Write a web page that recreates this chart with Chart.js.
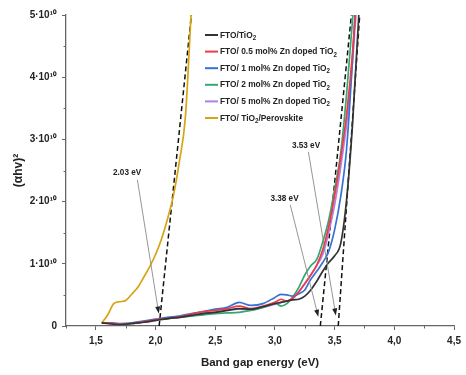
<!DOCTYPE html>
<html lang="en">
<head>
<meta charset="UTF-8">
<title>Band gap energy - Tauc plot</title>
<script src="https://cdn.jsdelivr.net/npm/chart.js"></script>
<style>
  html, body { margin: 0; padding: 0; background: #fff; }
  .chart-container { position: relative; width: 466px; height: 375px; }
</style>
</head>
<body>
<div class="chart-container"><canvas id="taucChart" width="466" height="375"></canvas></div>
<script>
// energy grid (eV) shared by the TiO2 films
const energy = [1.55, 1.6, 1.7, 1.8, 1.9, 2.0, 2.1, 2.2, 2.3, 2.4, 2.5, 2.6, 2.7, 2.8, 2.9, 3.0, 3.05, 3.1, 3.15, 3.2, 3.25, 3.3, 3.35, 3.4, 3.45, 3.5, 3.55, 3.6, 3.65, 3.7, 3.75];

// (ahv)^2 in units of 1e10
const ftoTiO2   = [0.05, 0.04, 0.02, 0.04, 0.06, 0.09, 0.12, 0.14, 0.17, 0.20, 0.22, 0.25, 0.28, 0.27, 0.31, 0.36, 0.38, 0.40, 0.42, 0.43, 0.48, 0.58, 0.72, 0.88, 1.02, 1.13, 1.32, 2.03, 3.25, 4.92, 6.8];
const zn05      = [0.05, 0.05, 0.03, 0.04, 0.07, 0.10, 0.12, 0.15, 0.19, 0.23, 0.25, 0.28, 0.32, 0.28, 0.32, 0.38, 0.43, 0.40, 0.45, 0.55, 0.68, 0.82, 0.98, 1.22, 1.60, 2.10, 2.70, 3.40, 4.40, 5.8, 7.4];
const zn1       = [0.05, 0.05, 0.04, 0.05, 0.08, 0.11, 0.14, 0.16, 0.20, 0.23, 0.27, 0.30, 0.38, 0.33, 0.36, 0.46, 0.51, 0.50, 0.48, 0.52, 0.58, 0.75, 0.88, 1.02, 1.20, 1.55, 2.07, 2.85, 4.30, 6.0, 7.8];
const zn2       = [0.05, 0.05, 0.03, 0.04, 0.07, 0.10, 0.12, 0.14, 0.16, 0.18, 0.20, 0.21, 0.22, 0.25, 0.30, 0.37, 0.32, 0.36, 0.47, 0.62, 0.82, 0.97, 1.07, 1.35, 1.70, 2.20, 2.77, 3.73, 4.93, 6.1, 7.6];
const zn5       = [0.05, 0.04, 0.02, 0.04, 0.06, 0.09, 0.12, 0.14, 0.17, 0.20, 0.22, 0.25, 0.27, 0.26, 0.30, 0.35, 0.38, 0.40, 0.44, 0.55, 0.68, 0.82, 0.97, 1.15, 1.50, 1.95, 2.55, 3.25, 4.25, 5.6, 7.2];

const perovskiteEnergy = [1.55, 1.6, 1.65, 1.7, 1.75, 1.8, 1.85, 1.9, 1.95, 2.0, 2.05, 2.1, 2.15, 2.2, 2.25, 2.3];
const perovskite       = [0.05, 0.18, 0.36, 0.39, 0.41, 0.51, 0.62, 0.78, 0.95, 1.15, 1.40, 1.72, 2.10, 2.65, 3.36, 5.1];

const seriesNames  = ['FTO/TiO₂', 'FTO/ 0.5 mol% Zn doped TiO₂', 'FTO/ 1 mol% Zn doped TiO₂', 'FTO/ 2 mol% Zn doped TiO₂', 'FTO/ 5 mol% Zn doped TiO₂', 'FTO/ TiO₂/Perovskite'];
const seriesColors = ['#333333', '#ee3b47', '#3672d4', '#35a872', '#b07fe2', '#d6a414'];

// tangent extrapolations: x at y = 0 and at the top of the axis
const tangentX = [[2.03, 2.30], [3.38, 3.64], [3.53, 3.71]];
const tangentY = [0, 5];

// band gap labels and their arrows
const gapLabels  = ['2.03 eV', '3.38 eV', '3.53 eV'];
const gapLabelAt = [[1.762, 2.47], [3.08, 2.05], [3.26, 2.90]];
const arrowFrom  = [[1.848, 2.35], [3.128, 1.95], [3.28, 2.80]];
const arrowTo    = [[2.027, 0.20], [3.363, 0.15], [3.51, 0.17]];

const xTicks = [1.5, 2.0, 2.5, 3.0, 3.5, 4.0, 4.5];
const xMinor = [1.25, 1.75, 2.25, 2.75, 3.25, 3.75, 4.25];
const yTicks = [0, 1, 2, 3, 4, 5];
const yMinor = [0.5, 1.5, 2.5, 3.5, 4.5];

const FONT = "'Liberation Sans Narrow', 'Liberation Sans', Arial, sans-serif";
const axisColor = '#666';

const tioSeries = [ftoTiO2, zn05, zn1, zn2, zn5];
const datasets = tioSeries.map((vals, i) => ({
    label: seriesNames[i],
    data: energy.map((e, j) => ({ x: e, y: vals[j] })),
    borderColor: seriesColors[i],
    borderWidth: 1.7,
    pointRadius: 0,
    cubicInterpolationMode: 'monotone'
}));
datasets.push({
    label: seriesNames[5],
    data: perovskiteEnergy.map((e, j) => ({ x: e, y: perovskite[j] })),
    borderColor: seriesColors[5],
    borderWidth: 1.7,
    pointRadius: 0,
    cubicInterpolationMode: 'monotone'
});
tangentX.forEach(pair => {
    datasets.push({
        label: 'tangent',
        data: pair.map((e, j) => ({ x: e, y: tangentY[j] })),
        borderColor: '#111',
        borderWidth: 1.5,
        borderDash: [5, 3],
        pointRadius: 0
    });
});

// condensed text, "₂" drawn as a real subscript
function drawSubText(ctx, text, x, y, size, squeeze) {
    ctx.save();
    ctx.translate(x, y);
    ctx.scale(squeeze, 1);
    let cx = 0;
    const parts = text.split('₂');
    parts.forEach((p, i) => {
        ctx.font = 'bold ' + size + 'px ' + FONT;
        ctx.fillText(p, cx, 0);
        cx += ctx.measureText(p).width;
        if (i < parts.length - 1) {
            ctx.font = 'bold ' + Math.round(size * 0.7) + 'px ' + FONT;
            ctx.fillText('2', cx, 3);
            cx += ctx.measureText('2').width;
        }
    });
    ctx.restore();
}

const extrasPlugin = {
    id: 'taucExtras',
    afterDraw(chart) {
        const { ctx, chartArea, scales: { x, y } } = chart;
        ctx.save();

        // minor ticks
        ctx.strokeStyle = axisColor;
        ctx.lineWidth = 1;
        ctx.beginPath();
        xMinor.forEach(v => {
            const px = Math.round(x.getPixelForValue(v)) + 0.5;
            ctx.moveTo(px, chartArea.bottom);
            ctx.lineTo(px, chartArea.bottom + 2.5);
        });
        yMinor.forEach(v => {
            const py = Math.round(y.getPixelForValue(v)) + 0.5;
            ctx.moveTo(chartArea.left - 2.5, py);
            ctx.lineTo(chartArea.left, py);
        });
        ctx.stroke();

        // arrows
        arrowFrom.forEach((from, i) => {
            const x0 = x.getPixelForValue(from[0]), y0 = y.getPixelForValue(from[1]);
            const x1 = x.getPixelForValue(arrowTo[i][0]), y1 = y.getPixelForValue(arrowTo[i][1]);
            const ang = Math.atan2(y1 - y0, x1 - x0);
            ctx.strokeStyle = '#8a8a8a';
            ctx.lineWidth = 0.9;
            ctx.beginPath();
            ctx.moveTo(x0, y0);
            ctx.lineTo(x1 - 5 * Math.cos(ang), y1 - 5 * Math.sin(ang));
            ctx.stroke();
            ctx.fillStyle = '#222';
            ctx.beginPath();
            ctx.moveTo(x1, y1);
            ctx.lineTo(x1 - 7 * Math.cos(ang) + 2.5 * Math.sin(ang), y1 - 7 * Math.sin(ang) - 2.5 * Math.cos(ang));
            ctx.lineTo(x1 - 7 * Math.cos(ang) - 2.5 * Math.sin(ang), y1 - 7 * Math.sin(ang) + 2.5 * Math.cos(ang));
            ctx.closePath();
            ctx.fill();
        });

        // band gap labels
        ctx.fillStyle = '#222';
        ctx.textAlign = 'center';
        ctx.textBaseline = 'middle';
        gapLabels.forEach((t, i) => {
            ctx.save();
            ctx.translate(x.getPixelForValue(gapLabelAt[i][0]), y.getPixelForValue(gapLabelAt[i][1]));
            ctx.scale(0.86, 1);
            ctx.font = 'bold 9.5px ' + FONT;
            ctx.fillText(t, 0, 0);
            ctx.restore();
        });

        // legend
        ctx.textAlign = 'left';
        const lx = chartArea.left + 139, ly = chartArea.top + 20, rowH = 16.6;
        seriesNames.forEach((name, i) => {
            const ry = ly + i * rowH;
            ctx.strokeStyle = seriesColors[i];
            ctx.lineWidth = 2;
            ctx.beginPath();
            ctx.moveTo(lx, ry);
            ctx.lineTo(lx + 13, ry);
            ctx.stroke();
            ctx.fillStyle = '#222';
            drawSubText(ctx, name, lx + 15, ry, 9.5, 0.88);
        });

        ctx.restore();
    }
};

new Chart(document.getElementById('taucChart'), {
    type: 'line',
    data: { datasets },
    options: {
        responsive: false,
        animation: false,
        layout: { padding: { top: 15, right: 7, left: 0, bottom: 0 } },
        plugins: {
            legend: { display: false },
            tooltip: { enabled: false }
        },
        scales: {
            x: {
                type: 'linear',
                min: 1.25,
                max: 4.5,
                afterBuildTicks: s => { s.ticks = xTicks.map(v => ({ value: v })); },
                afterFit: s => { s.height = 49; },
                ticks: {
                    color: '#222',
                    padding: 5,
                    font: { family: FONT, size: 10, weight: 'bold' },
                    callback: v => v.toFixed(1).replace('.', ',')
                },
                grid: { drawOnChartArea: false, tickLength: 4, color: axisColor, tickWidth: 1 },
                border: { display: true, color: axisColor, width: 1.3 },
                title: {
                    display: true,
                    text: 'Band gap energy (eV)',
                    color: '#222',
                    font: { family: FONT, size: 11.5, weight: 'bold' },
                    padding: { top: 0, bottom: 5 }
                }
            },
            y: {
                type: 'linear',
                min: 0,
                max: 5,
                afterBuildTicks: s => { s.ticks = yTicks.map(v => ({ value: v })); },
                afterFit: s => { s.width = 66; },
                ticks: {
                    color: '#222',
                    padding: 5,
                    font: { family: FONT, size: 10, weight: 'bold' },
                    callback: v => v === 0 ? '0' : v + '·10¹⁰'
                },
                grid: { drawOnChartArea: false, tickLength: 4, color: axisColor, tickWidth: 1 },
                border: { display: true, color: axisColor, width: 1.3 },
                title: {
                    display: true,
                    text: '(αhv)²',
                    color: '#222',
                    font: { family: FONT, size: 12, weight: 'bold' },
                    padding: { top: 11, bottom: 0 }
                }
            }
        }
    },
    plugins: [extrasPlugin]
});
</script>
</body>
</html>
